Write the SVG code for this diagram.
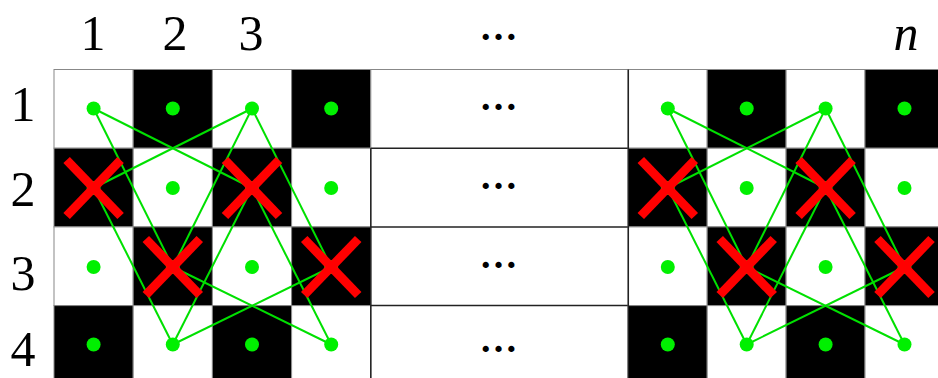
<svg xmlns="http://www.w3.org/2000/svg" width="938" height="378" viewBox="0 0 938 378">
<defs>
<style>
.w{fill:#fff;stroke:#888;stroke-width:1}
.b{fill:#000;stroke:#888;stroke-width:1}
.dot{fill:#00f000}
.e{stroke:#00e000;stroke-width:2;fill:none}
.x{stroke:#ff0000;stroke-width:9;stroke-linecap:butt}
.lbl{font-family:"Liberation Serif","DejaVu Serif",serif;font-size:50px;fill:#000;text-anchor:middle}
.it{font-style:italic}
.ell{font-family:"Liberation Serif","DejaVu Serif",serif;font-size:38px;font-weight:bold;fill:#000;text-anchor:middle}
.sep{stroke:#222;stroke-width:1.5}
</style>
<g id="cross"><line class="x" x1="-27" y1="-28" x2="27" y2="28"/><line class="x" x1="27" y1="-28" x2="-27" y2="28"/></g>
</defs>
<rect width="938" height="378" fill="#fff"/>

<!-- labels -->
<g id="labels">
<text class="lbl" x="93" y="50">1</text>
<text class="lbl" x="175" y="50">2</text>
<text class="lbl" x="251" y="50">3</text>
<text class="lbl it" x="906" y="50">n</text>
<text class="ell" x="498.5" y="40">…</text>
<text class="lbl" x="23" y="121">1</text>
<text class="lbl" x="23" y="206">2</text>
<text class="lbl" x="23" y="290">3</text>
<text class="lbl" x="23" y="366">4</text>
</g>

<!-- left block -->
<g id="block-left">
<rect class="w" x="54" y="69.5" width="79.2" height="78.7"/>
<rect class="b" x="133.2" y="69.5" width="79.2" height="78.7"/>
<rect class="w" x="212.4" y="69.5" width="79.2" height="78.7"/>
<rect class="b" x="291.6" y="69.5" width="79.2" height="78.7"/>
<rect class="b" x="54" y="148.2" width="79.2" height="78.7"/>
<rect class="w" x="133.2" y="148.2" width="79.2" height="78.7"/>
<rect class="b" x="212.4" y="148.2" width="79.2" height="78.7"/>
<rect class="w" x="291.6" y="148.2" width="79.2" height="78.7"/>
<rect class="w" x="54" y="226.9" width="79.2" height="78.7"/>
<rect class="b" x="133.2" y="226.9" width="79.2" height="78.7"/>
<rect class="w" x="212.4" y="226.9" width="79.2" height="78.7"/>
<rect class="b" x="291.6" y="226.9" width="79.2" height="78.7"/>
<rect class="b" x="54" y="305.6" width="79.2" height="78.7"/>
<rect class="w" x="133.2" y="305.6" width="79.2" height="78.7"/>
<rect class="b" x="212.4" y="305.6" width="79.2" height="78.7"/>
<rect class="w" x="291.6" y="305.6" width="79.2" height="78.7"/>
</g>

<!-- middle block -->
<g id="block-middle">
<rect x="370.8" y="69.5" width="257.5" height="315" fill="#fff" stroke="#888" stroke-width="1"/>
<line class="sep" x1="370.8" y1="148.2" x2="628.3" y2="148.2"/>
<line class="sep" x1="370.8" y1="226.9" x2="628.3" y2="226.9"/>
<line class="sep" x1="370.8" y1="305.6" x2="628.3" y2="305.6"/>
<line class="sep" x1="370.8" y1="148.2" x2="370.8" y2="378"/>
<text class="ell" x="498.5" y="110">…</text>
<text class="ell" x="498.5" y="189">…</text>
<text class="ell" x="498.5" y="268">…</text>
<text class="ell" x="498.5" y="352">…</text>
</g>

<!-- right block -->
<g id="block-right">
<rect class="w" x="628.3" y="69.5" width="78.9" height="78.7"/>
<rect class="b" x="707.2" y="69.5" width="78.9" height="78.7"/>
<rect class="w" x="786.1" y="69.5" width="78.9" height="78.7"/>
<rect class="b" x="865" y="69.5" width="78.9" height="78.7"/>
<rect class="b" x="628.3" y="148.2" width="78.9" height="78.7"/>
<rect class="w" x="707.2" y="148.2" width="78.9" height="78.7"/>
<rect class="b" x="786.1" y="148.2" width="78.9" height="78.7"/>
<rect class="w" x="865" y="148.2" width="78.9" height="78.7"/>
<rect class="w" x="628.3" y="226.9" width="78.9" height="78.7"/>
<rect class="b" x="707.2" y="226.9" width="78.9" height="78.7"/>
<rect class="w" x="786.1" y="226.9" width="78.9" height="78.7"/>
<rect class="b" x="865" y="226.9" width="78.9" height="78.7"/>
<rect class="b" x="628.3" y="305.6" width="78.9" height="78.7"/>
<rect class="w" x="707.2" y="305.6" width="78.9" height="78.7"/>
<rect class="b" x="786.1" y="305.6" width="78.9" height="78.7"/>
<rect class="w" x="865" y="305.6" width="78.9" height="78.7"/>
<line class="sep" x1="628.3" y1="69.5" x2="628.3" y2="378" stroke="#888"/>
</g>

<!-- connectors -->
<g id="connectors">
<g id="edges-left">
<line class="e" x1="93.6" y1="108.5" x2="252" y2="188"/>
<line class="e" x1="93.6" y1="108.5" x2="172.8" y2="267"/>
<line class="e" x1="252" y1="108.5" x2="93.6" y2="188"/>
<line class="e" x1="252" y1="108.5" x2="172.8" y2="267"/>
<line class="e" x1="252" y1="108.5" x2="331.2" y2="267"/>
<line class="e" x1="93.6" y1="188" x2="172.8" y2="344.5"/>
<line class="e" x1="252" y1="188" x2="172.8" y2="344.5"/>
<line class="e" x1="252" y1="188" x2="331.2" y2="344.5"/>
<line class="e" x1="172.8" y1="267" x2="331.2" y2="344.5"/>
<line class="e" x1="331.2" y1="267" x2="172.8" y2="344.5"/>
</g>
<g id="edges-right">
<line class="e" x1="667.8" y1="108.5" x2="825.6" y2="188"/>
<line class="e" x1="667.8" y1="108.5" x2="746.7" y2="267"/>
<line class="e" x1="825.6" y1="108.5" x2="667.8" y2="188"/>
<line class="e" x1="825.6" y1="108.5" x2="746.7" y2="267"/>
<line class="e" x1="825.6" y1="108.5" x2="904.5" y2="267"/>
<line class="e" x1="667.8" y1="188" x2="746.7" y2="344.5"/>
<line class="e" x1="825.6" y1="188" x2="746.7" y2="344.5"/>
<line class="e" x1="825.6" y1="188" x2="904.5" y2="344.5"/>
<line class="e" x1="746.7" y1="267" x2="904.5" y2="344.5"/>
<line class="e" x1="904.5" y1="267" x2="746.7" y2="344.5"/>
</g>
</g>

<!-- dots -->
<g id="dots">
<circle class="dot" cx="93.6" cy="108.5" r="7"/><circle class="dot" cx="172.8" cy="108.5" r="7"/><circle class="dot" cx="252" cy="108.5" r="7"/><circle class="dot" cx="331.2" cy="108.5" r="7"/>
<circle class="dot" cx="93.6" cy="188" r="7"/><circle class="dot" cx="172.8" cy="188" r="7"/><circle class="dot" cx="252" cy="188" r="7"/><circle class="dot" cx="331.2" cy="188" r="7"/>
<circle class="dot" cx="93.6" cy="267" r="7"/><circle class="dot" cx="172.8" cy="267" r="7"/><circle class="dot" cx="252" cy="267" r="7"/><circle class="dot" cx="331.2" cy="267" r="7"/>
<circle class="dot" cx="93.6" cy="344.5" r="7"/><circle class="dot" cx="172.8" cy="344.5" r="7"/><circle class="dot" cx="252" cy="344.5" r="7"/><circle class="dot" cx="331.2" cy="344.5" r="7"/>
<circle class="dot" cx="667.8" cy="108.5" r="7"/><circle class="dot" cx="746.7" cy="108.5" r="7"/><circle class="dot" cx="825.6" cy="108.5" r="7"/><circle class="dot" cx="904.5" cy="108.5" r="7"/>
<circle class="dot" cx="667.8" cy="188" r="7"/><circle class="dot" cx="746.7" cy="188" r="7"/><circle class="dot" cx="825.6" cy="188" r="7"/><circle class="dot" cx="904.5" cy="188" r="7"/>
<circle class="dot" cx="667.8" cy="267" r="7"/><circle class="dot" cx="746.7" cy="267" r="7"/><circle class="dot" cx="825.6" cy="267" r="7"/><circle class="dot" cx="904.5" cy="267" r="7"/>
<circle class="dot" cx="667.8" cy="344.5" r="7"/><circle class="dot" cx="746.7" cy="344.5" r="7"/><circle class="dot" cx="825.6" cy="344.5" r="7"/><circle class="dot" cx="904.5" cy="344.5" r="7"/>
</g>

<!-- crosses -->
<g id="crosses">
<use href="#cross" x="93.6" y="188"/>
<use href="#cross" x="252" y="188"/>
<use href="#cross" x="172.8" y="267"/>
<use href="#cross" x="331.2" y="267"/>
<use href="#cross" x="667.8" y="188"/>
<use href="#cross" x="825.6" y="188"/>
<use href="#cross" x="746.7" y="267"/>
<use href="#cross" x="904.5" y="267"/>
</g>
</svg>
